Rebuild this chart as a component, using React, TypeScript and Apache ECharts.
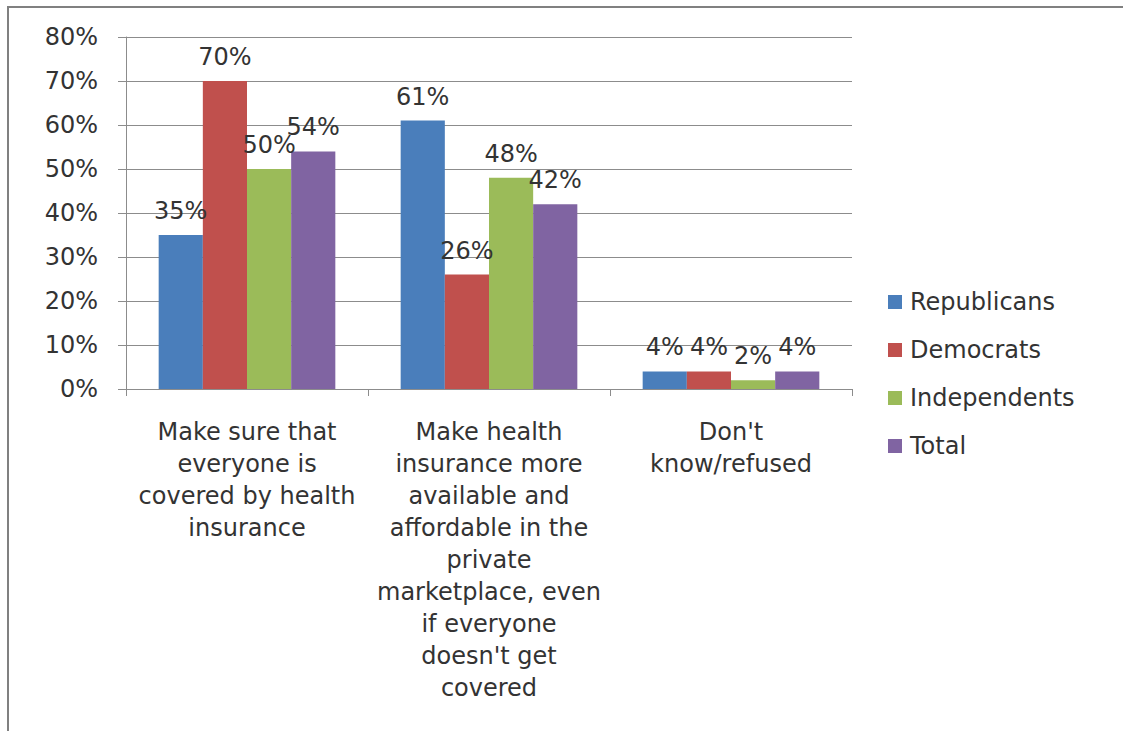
import React, { useEffect, useRef } from "react";
import * as echarts from "echarts";

const categories = [
  "Make sure that\neveryone is\ncovered by health\ninsurance",
  "Make health\ninsurance more\navailable and\naffordable in the\nprivate\nmarketplace, even\nif everyone\ndoesn't get\ncovered",
  "Don't\nknow/refused",
];
const republicans = [35, 61, 4];
const democrats = [70, 26, 4];
const independents = [50, 48, 2];
const total = [54, 42, 4];
const seriesNames = ["Republicans", "Democrats", "Independents", "Total"];
const colors = ["#4A7EBB", "#C0504D", "#9BBB59", "#8064A2"];

const FONT = "DejaVu Sans";

export default function App() {
  const ref = useRef<HTMLDivElement>(null);
  useEffect(() => {
    if (!ref.current) return;
    const chart = echarts.init(ref.current, undefined, { renderer: "svg" });
    const dataSets = [republicans, democrats, independents, total];
    chart.setOption({
      animation: false,
      backgroundColor: "#ffffff",
      textStyle: { fontFamily: FONT },
      graphic: [
        {
          type: "rect",
          shape: { x: 8, y: 7, width: 1200, height: 800 },
          style: { fill: "none", stroke: "#808080", lineWidth: 2 },
          silent: true,
        },
      ],
      grid: { left: 126, right: 271, top: 37, bottom: 342, containLabel: false },
      legend: {
        orient: "vertical",
        left: 883,
        top: 285,
        itemWidth: 14,
        itemHeight: 14,
        itemGap: 24,
        icon: "rect",
        data: seriesNames,
        textStyle: { fontFamily: FONT, fontSize: 24, color: "#333333", padding: [0, 0, 0, 3] },
      },
      xAxis: {
        type: "category",
        data: categories,
        axisLine: { show: true, lineStyle: { color: "#8c8c8c", width: 1 } },
        axisTick: { show: true, length: 7, lineStyle: { color: "#8c8c8c" } },
        axisLabel: {
          interval: 0,
          margin: 27,
          fontFamily: FONT,
          fontSize: 24,
          lineHeight: 32,
          color: "#333333",
          align: "center",
        },
      },
      yAxis: {
        type: "value",
        min: 0,
        max: 80,
        interval: 10,
        axisLine: { show: true, lineStyle: { color: "#8c8c8c", width: 1 } },
        axisTick: { show: true, length: 8, lineStyle: { color: "#8c8c8c" } },
        splitLine: { show: true, lineStyle: { color: "#8c8c8c", width: 1 } },
        axisLabel: {
          formatter: "{value}%",
          margin: 28,
          fontFamily: FONT,
          fontSize: 24,
          color: "#333333",
        },
      },
      series: seriesNames.map((name, i) => ({
        name,
        type: "bar",
        data: dataSets[i],
        barGap: "0%",
        barCategoryGap: "27%",
        itemStyle: { color: colors[i] },
        label: {
          show: true,
          position: "top",
          distance: 12,
          formatter: "{c}%",
          fontFamily: FONT,
          fontSize: 24,
          color: "#333333",
        },
      })),
    });
    return () => chart.dispose();
  }, []);
  return (
    <div
      ref={ref}
      style={{ position: "fixed", left: 0, top: 0, width: 1123, height: 731 }}
    />
  );
}
